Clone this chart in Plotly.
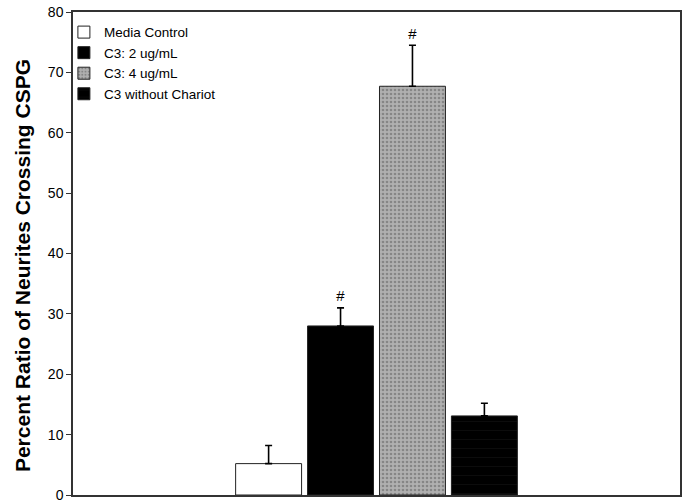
import plotly.graph_objects as go

# Neurite crossing data (percent ratio crossing CSPG), mean and SEM
groups = ["Media Control", "C3: 2 ug/mL", "C3: 4 ug/mL", "C3 without Chariot"]
means = [5.2, 28.0, 67.7, 13.1]
sems = [3.0, 3.0, 6.8, 2.1]
significant = [False, True, True, False]

fills = ["white", "black", "#a4a4a4", "black"]
patterns = [
    dict(shape=""),
    dict(shape=""),
    dict(shape=".", fgcolor="#5c5c5c", bgcolor="#b0b0b0", size=4, solidity=0.35),
    dict(shape="-", fgcolor="#333333", bgcolor="black", size=9, solidity=0.05),
]

BARGAP = 0.526
GROUPGAP = 0.083

fig = go.Figure()
for name, m, e, fc, pat in zip(groups, means, sems, fills, patterns):
    fig.add_trace(go.Bar(
        x=["all"], y=[m], name=name,
        marker=dict(color=fc, line=dict(color="#222222", width=1), pattern=pat),
        error_y=dict(type="data", array=[e], arrayminus=[0], symmetric=False,
                     color="black", thickness=1.6, width=3.5),
    ))

# significance markers above the error bars
group_w = 1 - BARGAP
slot = group_w / len(groups)
for i, (m, e, sig) in enumerate(zip(means, sems, significant)):
    if sig:
        fig.add_annotation(
            x=-group_w / 2 + slot * (i + 0.5), y=m + e, xref="x", yref="y",
            text="<i>#</i>", showarrow=False, yshift=12,
            font=dict(family="Liberation Sans", size=15, color="black"),
        )

# y-axis title
fig.add_annotation(
    x=-0.084, y=0.474, xref="paper", yref="paper",
    text="<b>Percent Ratio of Neurites Crossing CSPG</b>", textangle=-90,
    showarrow=False, xanchor="center", yanchor="middle",
    font=dict(family="Liberation Sans", size=21, color="black"),
)

fig.update_layout(
    width=684, height=502,
    margin=dict(l=73, r=4, t=12, b=7),
    paper_bgcolor="white", plot_bgcolor="white",
    barmode="group", bargap=BARGAP, bargroupgap=GROUPGAP,
    font=dict(family="Liberation Sans", size=12, color="black"),
    showlegend=True,
    legend=dict(x=-0.015, y=0.99, xanchor="left", yanchor="top",
                bgcolor="rgba(0,0,0,0)", font=dict(size=13.5),
                tracegroupgap=0, itemwidth=30),
    xaxis=dict(range=[-0.5, 0.5], showticklabels=False, ticks="",
               showline=True, linecolor="#333333", linewidth=1.5, mirror=True,
               showgrid=False, zeroline=False, automargin=False),
    yaxis=dict(range=[0, 80], dtick=10, ticks="outside", ticklen=5,
               tickcolor="#333333", showline=True, linecolor="#333333",
               linewidth=1.5, mirror=True, showgrid=False, zeroline=False,
               tickfont=dict(size=14), ticklabeloverflow="allow",
               automargin=False),
)

fig.write_html("out.html")
